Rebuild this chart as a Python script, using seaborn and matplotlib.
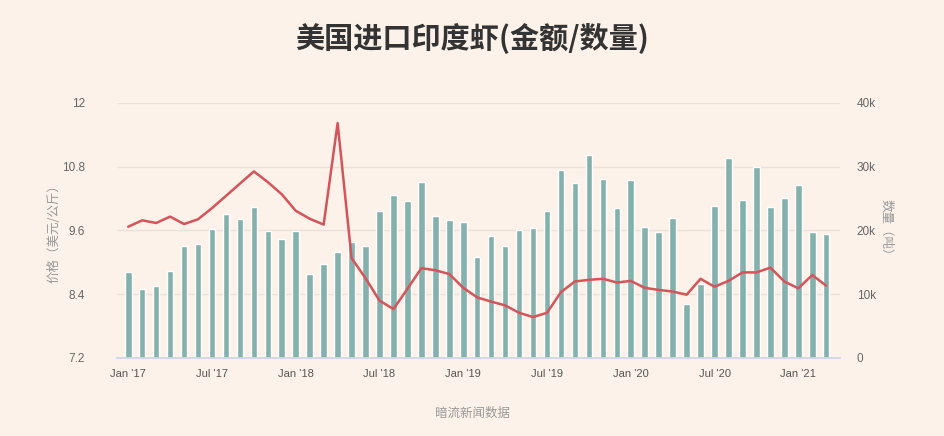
import numpy as np
import pandas as pd
import matplotlib
matplotlib.use("Agg")
import matplotlib.pyplot as plt
import seaborn as sns

# monthly data, Jan 2017 .. Mar 2021
months = pd.date_range("2017-01-01", "2021-03-01", freq="MS")

quantity = [
    13500, 10800, 11300, 13600, 17500, 17800, 20200, 22600, 21800, 23600, 19900, 18700,
    19900, 13200, 14800, 16600, 18200, 17600, 23100, 25600, 24600, 27600, 22300, 21600,
    21300, 15800, 19100, 17600, 20100, 20400, 23100, 29500, 27500, 31800, 28100, 23500,
    27900, 20500, 19800, 22000, 8500, 11600, 23800, 31400, 24800, 30000, 23700, 25100,
    27100, 19800, 19500,
]

price = [
    9.67, 9.79, 9.74, 9.86, 9.72, 9.81, 10.02, 10.25, 10.48, 10.71, 10.51, 10.28,
    9.97, 9.82, 9.71, 11.62, 9.08, 8.70, 8.28, 8.12, 8.50, 8.89, 8.85, 8.78,
    8.52, 8.34, 8.26, 8.19, 8.05, 7.97, 8.05, 8.44, 8.64, 8.67, 8.69, 8.62,
    8.65, 8.52, 8.48, 8.45, 8.39, 8.69, 8.54, 8.65, 8.81, 8.81, 8.90, 8.64,
    8.51, 8.76, 8.56,
]

price_ticks = [7.2, 8.4, 9.6, 10.8, 12]
price_tick_labels = ["7.2", "8.4", "9.6", "10.8", "12"]
qty_ticks = [0, 10000, 20000, 30000, 40000]
qty_tick_labels = ["0", "10k", "20k", "30k", "40k"]

BG = "#fcf2e9"
BAR_COLOR = "#85b1ad"
LINE_COLOR = "#d4545a"
TICK_FONT = ["Liberation Sans", "DejaVu Sans"]

df = pd.DataFrame({"idx": np.arange(len(months)), "quantity": quantity, "price": price})

sns.set_theme(style="white")
plt.rcParams["font.family"] = ["Noto Sans CJK SC", "DejaVu Sans"]

fig = plt.figure(figsize=(9.44, 4.36), dpi=100, facecolor=BG)
ax = fig.add_axes([0.124, 0.179, 0.766, 0.585])
ax2 = ax.twinx()

# bars on right axis, drawn underneath the price line
ax.set_zorder(ax2.get_zorder() + 1)
ax.patch.set_visible(False)
ax2.set_facecolor(BG)

sns.barplot(data=df, x="idx", y="quantity", native_scale=True, color=BAR_COLOR,
            width=0.47, saturation=1, ax=ax2)
sns.lineplot(data=df, x="idx", y="price", color=LINE_COLOR, linewidth=1.8, ax=ax)

ax.set_xlim(-0.8, 51)
ax.set_ylim(7.2, 12)
ax2.set_ylim(0, 40000)
ax.set_yticks(price_ticks)
ax.set_yticklabels(price_tick_labels, family=TICK_FONT)
ax2.set_yticks(qty_ticks)
ax2.set_yticklabels(qty_tick_labels, family=TICK_FONT)

# gridlines from the quantity axis (aligned with price ticks)
ax2.set_axisbelow(True)
ax2.yaxis.grid(True, color="#eae2da", linewidth=1)
ax2.xaxis.grid(False)
ax.grid(False)

tick_pos = list(range(0, len(months), 6))
tick_lab = [months[i].strftime("%b '%y") for i in tick_pos]
ax.set_xticks(tick_pos)
ax.set_xticklabels(tick_lab, family=TICK_FONT)

for a in (ax, ax2):
    for s in a.spines.values():
        s.set_visible(False)
ax2.spines["bottom"].set_visible(True)
ax2.spines["bottom"].set_color("#ccd6eb")

ax.tick_params(axis="x", length=5, color="#ccd6eb", labelsize=8, labelcolor="#555555", pad=3)
ax.tick_params(axis="y", length=0, labelsize=8.5, labelcolor="#666666", pad=23)
ax2.tick_params(axis="y", length=0, labelsize=8.5, labelcolor="#666666", pad=12)

ax.set_xlabel("")
ax2.set_xlabel("")
ax.set_ylabel("价格（美元/公斤）", color="#999999", fontsize=9)
ax2.set_ylabel("数量（吨）", color="#999999", fontsize=9, rotation=270)
ax2.yaxis.set_label_coords(1.072, 0.5)
ax.yaxis.set_label_coords(-0.078, 0.5)

fig.text(0.5, 0.913, "美国进口印度虾(金额/数量)", ha="center", va="center",
         fontsize=21, fontweight="bold", color="#333333")
fig.text(0.5, 0.052, "暗流新闻数据", ha="center", va="center",
         fontsize=9, color="#999999")

fig.savefig("out.png", dpi=100, facecolor=BG)
